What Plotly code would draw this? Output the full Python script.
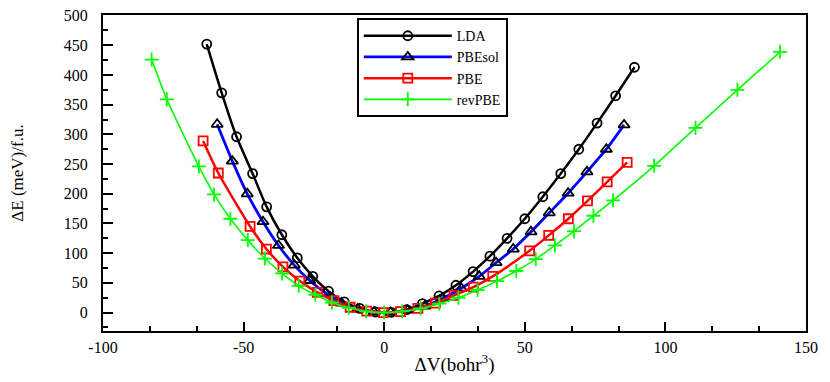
import plotly.graph_objects as go

# data
lda_dv = [-63.1, -57.8, -52.5, -46.8, -41.8, -36.4, -30.9, -25.4, -19.8, -14.2,
          -8.7, -3.1, 2.5, 8.0, 13.6, 19.5, 25.5, 31.6, 37.6, 43.7,
          50.0, 56.4, 62.8, 69.2, 75.7, 82.3, 89.0]
lda_de = [452, 370, 296, 234, 178, 131, 92, 61, 36, 18,
          7, 1, 0.5, 5, 15, 28, 46, 69, 95, 125,
          158, 195, 234, 275, 319, 365, 413]

pbesol_dv = [-59.4, -54.0, -48.7, -43.1, -37.6, -32.0, -26.5, -20.9, -15.2, -9.4,
             -3.6, 2.3, 8.3, 14.5, 20.9, 27.4, 33.8, 39.8, 45.9, 52.2,
             58.7, 65.4, 72.1, 79.0, 85.3]
pbesol_de = [317, 255, 200, 153, 113, 80, 54, 33, 16, 6,
             1, 0.3, 4, 11, 24, 41, 61, 84, 107, 136,
             168, 201, 237, 275, 316]

pbe_dv = [-64.4, -59.0, -47.7, -41.9, -36.0, -30.0, -23.8, -17.9, -12.1, -6.2,
          -0.3, 5.8, 12.0, 18.2, 24.8, 31.7, 38.6, 51.7, 58.5, 65.5,
          72.3, 79.3, 86.4]
pbe_de = [289, 235, 145, 107, 77, 53, 34, 20, 9, 2.5,
          0, 1.5, 7, 16, 29, 43, 61, 104, 130, 158,
          188, 220, 253]

revpbe_dv = [-82.7, -77.3, -65.9, -60.5, -54.7, -48.5, -42.4, -36.3, -30.4, -24.5,
             -18.6, -12.6, -6.4, 0.0, 6.4, 12.9, 19.6, 26.4, 33.2, 40.1,
             47.0, 53.9, 60.7, 67.5, 74.4, 81.4, 96.0, 110.7, 125.6, 140.8]
revpbe_de = [426, 359, 246, 199, 158, 122, 91, 66, 45, 30,
             17, 8, 2, 0, 2, 7, 15, 25, 38, 53,
             70, 90, 113, 137, 163, 189, 247, 311, 375, 439]

x_ticks = [-100, -50, 0, 50, 100, 150]
y_ticks = [0, 50, 100, 150, 200, 250, 300, 350, 400, 450, 500]

serif = "Liberation Serif"

fig = go.Figure()

fig.add_trace(go.Scatter(
    x=lda_dv, y=lda_de, name="LDA", mode="lines+markers",
    line=dict(color="black", width=2.5, shape="spline", smoothing=0.6),
    marker=dict(symbol="circle-open", size=9, color="black", line=dict(width=1.8)),
))
fig.add_trace(go.Scatter(
    x=pbesol_dv, y=pbesol_de, name="PBEsol", mode="lines+markers",
    line=dict(color="#0000ff", width=2.8, shape="spline", smoothing=0.6),
    marker=dict(symbol="triangle-up-open", size=10, color="black", line=dict(width=1.8)),
))
fig.add_trace(go.Scatter(
    x=pbe_dv, y=pbe_de, name="PBE", mode="lines+markers",
    line=dict(color="#ff0000", width=2.5, shape="spline", smoothing=0.6),
    marker=dict(symbol="square-open", size=9, color="#ff0000", line=dict(width=1.8)),
))
fig.add_trace(go.Scatter(
    x=revpbe_dv, y=revpbe_de, name="revPBE", mode="lines+markers",
    line=dict(color="#00ff00", width=1.6, shape="spline", smoothing=0.6),
    marker=dict(symbol="cross-thin-open", size=10, color="#00ff00", line=dict(width=1.8)),
))

# page body keeps an 8px margin, so the figure is a bit smaller than the window
fig.update_layout(
    width=822, height=374,
    margin=dict(l=95, r=24, t=7, b=51),
    paper_bgcolor="white", plot_bgcolor="white",
    font=dict(family=serif, size=16, color="black"),
    showlegend=True,
    legend=dict(
        x=0.361, y=0.99, xanchor="left", yanchor="top",
        bordercolor="black", borderwidth=2, bgcolor="white",
        font=dict(family=serif, size=14),
        tracegroupgap=0, itemwidth=88,
    ),
)

fig.update_xaxes(
    range=[-100, 150], tickvals=x_ticks, ticktext=[str(v) for v in x_ticks],
    ticks="inside", ticklen=9, tickwidth=1.5, tickcolor="black",
    minor=dict(dtick=50 / 3, ticks="inside", ticklen=5, tickwidth=1.5, tickcolor="black"),
    showline=True, linewidth=2, linecolor="black", mirror=True,
    showgrid=False, zeroline=False, automargin=False,
    ticklabelstandoff=1,
    tickfont=dict(family=serif, size=16),
    title=dict(text="ΔV(bohr<sup>3</sup>)", font=dict(family=serif, size=19), standoff=2),
)
fig.update_yaxes(
    range=[-31, 501], tickvals=y_ticks, ticktext=[str(v) for v in y_ticks],
    ticks="inside", ticklen=10, tickwidth=1.5, tickcolor="black",
    minor=dict(dtick=25, ticks="inside", ticklen=5, tickwidth=1.5, tickcolor="black"),
    showline=True, linewidth=2, linecolor="black", mirror=True,
    showgrid=False, zeroline=False, automargin=False,
    ticklabelstandoff=10, ticklabeloverflow="allow",
    tickfont=dict(family=serif, size=16),
    title=dict(text="ΔE (meV)/f.u.", font=dict(family=serif, size=17), standoff=48),
)

fig.write_html("out.html")
